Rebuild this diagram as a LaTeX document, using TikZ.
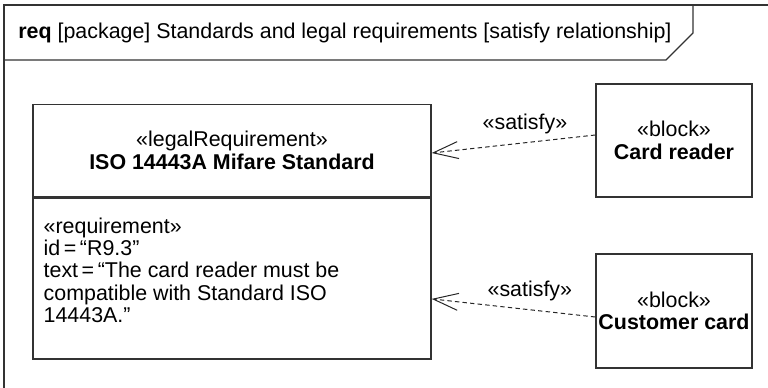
\documentclass[tikz,border=0pt]{standalone}
\usepackage{fontspec}
\setmainfont{Liberation Sans}
\usepackage{tikz}
\usetikzlibrary{arrows.meta,positioning,calc}

\begin{document}
\begin{tikzpicture}[
  x=0.5pt, y=-0.5pt,
  font=\fontsize{10.7}{11.2}\selectfont,
  frameline/.style={draw=black!80, line width=0.6pt},
  sysml/.style={draw=black!80, line width=0.7pt, fill=white, inner sep=0pt, align=center},
  satisfyarr/.style={-{Straight Barb[length=12.5pt, width=8.5pt, line width=0.5pt]},
    dashed, dash pattern=on 2.2pt off 1.6pt, line width=0.5pt, draw=black!85},
  stereo/.style={inner sep=1pt}
]
  \useasboundingbox (0,0) rectangle (768,387);
  % diagram frame and name tab
  \draw[frameline] (4,395) -- (4,5) -- (775,5);
  \draw[frameline] (4,60) -- (666,60) -- (693,33) -- (693,5);
  \node[anchor=west, inner sep=0pt] (title) at (18,33)
    {\textbf{req} [package] Standards and legal requirements [satisfy relationship]};

  % legal requirement
  \node[sysml, minimum width=199pt, minimum height=46pt] (legal) at (232,150.5)
    {«legalRequirement»\\\textbf{ISO 14443A Mifare Standard}};
  \node[sysml, minimum width=199pt, minimum height=80.5pt, anchor=north] (reqbody) at (legal.south) {};
  \node[anchor=north west, align=left, inner sep=0pt] (reqtext) at ($(reqbody.north west)+(11,20)$)
    {«requirement»\\id\,=\,“R9.3”\\text\,=\,“The card reader must be\\compatible with Standard ISO\\14443A.”};

  % blocks
  \node[sysml, minimum width=78pt, minimum height=56.5pt] (reader) at (674,140.5)
    {«block»\\\textbf{Card reader}};
  \node[sysml, minimum width=78pt, minimum height=57pt] (card) at (674,311)
    {«block»\\\textbf{Customer card}};

  % satisfy relationships
  \draw[satisfyarr] ($(reader.west)+(0,-5.5)$) -- node[stereo, pos=0.43, above=3pt] (sat1) {«satisfy»}
    ($(legal.east)+(0,2.5)$);
  \draw[satisfyarr] ($(card.west)+(0,6)$) -- node[stereo, pos=0.4, above=3pt] (sat2) {«satisfy»}
    ($(reqbody.east)+(0,20.5)$);
\end{tikzpicture}
\end{document}
